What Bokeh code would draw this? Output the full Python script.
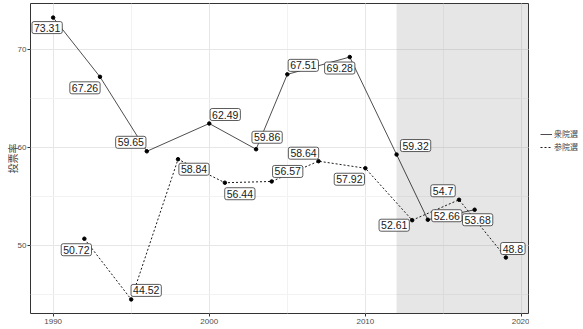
from bokeh.plotting import figure
from bokeh.layouts import row
from bokeh.models import (ColumnDataSource, Range1d, Legend, LegendItem, BoxAnnotation,
                          SingleIntervalTicker)
from bokeh.core.properties import value
from bokeh.embed import file_html
from bokeh.resources import INLINE

# ---- data ----
shu_years = [1990, 1993, 1996, 2000, 2003, 2005, 2009, 2012, 2014, 2017]
shu_turnout = [73.31, 67.26, 59.65, 62.49, 59.86, 67.51, 69.28, 59.32, 52.66, 53.68]
san_years = [1992, 1995, 1998, 2001, 2004, 2007, 2010, 2013, 2016, 2019]
san_turnout = [50.72, 44.52, 58.84, 56.44, 56.57, 58.64, 57.92, 52.61, 54.7, 48.8]
series_names = ["衆院選", "参院選"]
shade_start = 2012
x_ticks = [1990, 2000, 2010, 2020]
y_ticks = [50, 60, 70]

# label offsets in screen pixels (style, repel-like placement; +y is down)
shu_dx = [-6, -15, -16, 16, 11, 16, -10, 19, 19, 3]
shu_dy = [10, 11, -9, -9, -12, -9, 11, -9, -4, 10]
san_dx = [-8, 15, 16, 15, 16, -15, -16, -18, -16, 7]
san_dy = [11, -9, 10, 11, -10, -8, 11, 5, -9, -9]

all_x = shu_years + san_years
all_y = shu_turnout + san_turnout
xpad = (max(all_x) - min(all_x)) * 0.05
ypad = (max(all_y) - min(all_y)) * 0.05

p = figure(width=529, height=329, output_backend="svg", toolbar_location=None,
           x_range=Range1d(min(all_x) - xpad, max(all_x) + xpad),
           y_range=Range1d(min(all_y) - ypad, max(all_y) + ypad),
           min_border_left=30, min_border_right=1, min_border_top=3, min_border_bottom=16)

p.background_fill_color = "white"
p.border_fill_color = "white"
p.outline_line_color = "#333333"
p.outline_line_width = 1

p.xaxis.ticker = SingleIntervalTicker(interval=10, num_minor_ticks=2)
p.yaxis.ticker = SingleIntervalTicker(interval=10, num_minor_ticks=2)
for ax in (p.xaxis, p.yaxis):
    ax.axis_line_color = None
    ax.major_tick_line_color = "#333333"
    ax.major_tick_out = 3
    ax.major_tick_in = 0
    ax.minor_tick_line_color = None
    ax.major_label_text_font = "Liberation Sans"
    ax.major_label_text_font_size = "8px"
    ax.major_label_text_color = "#4d4d4d"
    ax.major_label_standoff = 1
p.yaxis.major_label_standoff = 0
p.yaxis.axis_label = "投票率"
p.yaxis.axis_label_text_font = "Noto Sans CJK JP"
p.yaxis.axis_label_text_font_size = "10px"
p.yaxis.axis_label_text_font_style = "normal"
p.yaxis.axis_label_text_line_height = 1.0
p.yaxis.axis_label_standoff = -5

p.grid.grid_line_color = "#e6e6e6"
p.grid.minor_grid_line_color = "#f2f2f2"
p.grid.grid_line_width = 1

shade = BoxAnnotation(left=shade_start, fill_color="grey", fill_alpha=0.2,
                      line_color=None, level="underlay")
p.add_layout(shade)

shu_src = ColumnDataSource(dict(x=shu_years, y=shu_turnout,
                                t=[str(v) for v in shu_turnout], dx=shu_dx, dy=shu_dy))
san_src = ColumnDataSource(dict(x=san_years, y=san_turnout,
                                t=[str(v) for v in san_turnout], dx=san_dx, dy=san_dy))

solid_style = dict(line_color="black", line_width=0.7)
dotted_style = dict(line_color="black", line_width=0.9, line_dash="2 2")

p.line("x", "y", source=shu_src, **solid_style)
p.line("x", "y", source=san_src, **dotted_style)
p.scatter("x", "y", source=shu_src, size=3.5, color="black")
p.scatter("x", "y", source=san_src, size=3.5, color="black")

for src in (shu_src, san_src):
    p.text("x", "y", text="t", source=src, x_offset="dx", y_offset="dy",
           text_align="center", text_baseline="middle",
           text_font=value("Liberation Sans"), text_font_size="10.5px", text_color="#1a1a1a",
           background_fill_color="white", border_line_color="#333333", border_line_width=0.8,
           padding=2, border_radius=2)

# legend panel (separate small figure to the right); its lines use the same
# series data but fall outside this panel's ranges, so only the legend shows
lg = figure(width=54, height=329, output_backend="svg", toolbar_location=None,
            x_range=Range1d(0, 1), y_range=Range1d(0, 1),
            min_border_left=0, min_border_right=0, min_border_top=0, min_border_bottom=0)
lg.axis.visible = False
lg.grid.visible = False
lg.outline_line_color = None
lg.background_fill_color = "white"
lg.border_fill_color = "white"
d1 = lg.line("x", "y", source=shu_src, **solid_style)
d2 = lg.line("x", "y", source=san_src, **dotted_style)

legend = Legend(items=[LegendItem(label=series_names[0], renderers=[d1]),
                       LegendItem(label=series_names[1], renderers=[d2])],
                location=(11, 161), orientation="vertical")
legend.label_text_font = "Noto Sans CJK JP"
legend.label_text_font_size = "8px"
legend.glyph_width = 12
legend.glyph_height = 10
legend.label_height = 10
legend.label_standoff = 2
legend.spacing = 2
legend.padding = 0
legend.margin = 0
legend.border_line_color = None
legend.background_fill_alpha = 0
lg.add_layout(legend)

layout = row(p, lg)
open("out.html", "w").write(file_html(layout, INLINE))
